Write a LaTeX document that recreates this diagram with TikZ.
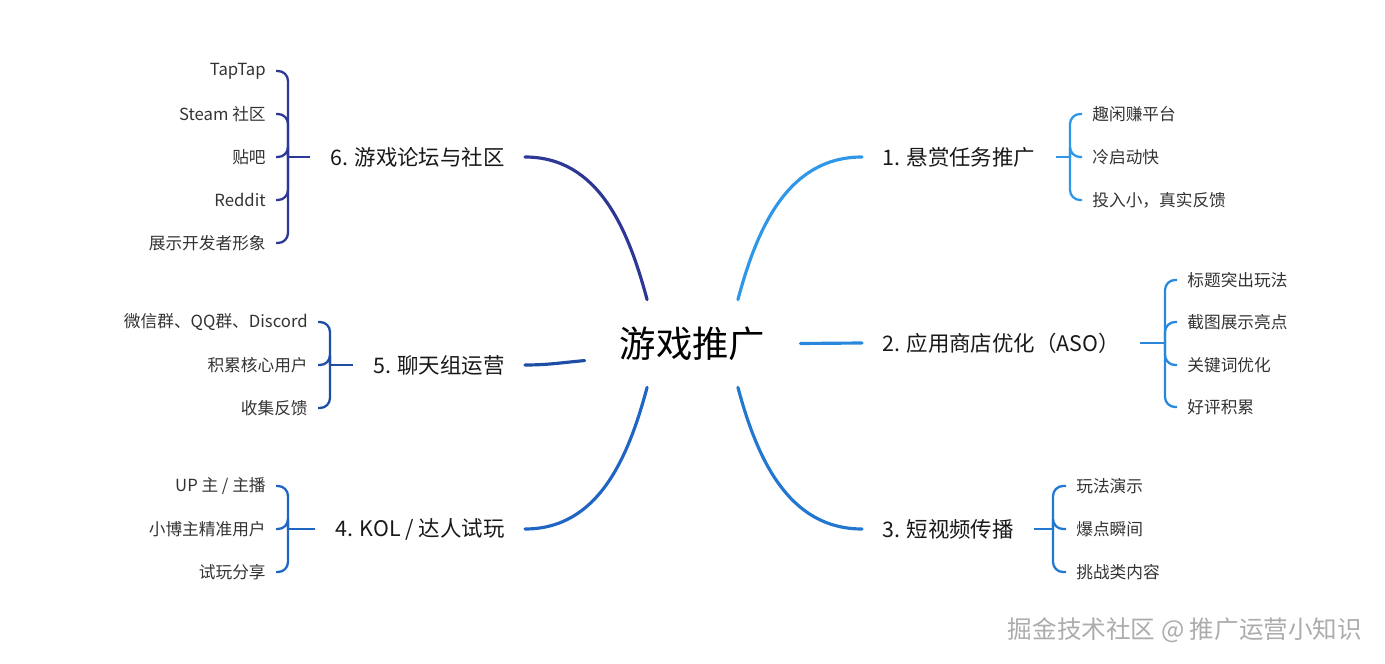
\documentclass[tikz,border=0pt]{standalone}
\usepackage{fontspec}
\setmainfont{Noto Sans CJK SC}

\definecolor{brA}{HTML}{2F97E8}
\definecolor{brB}{HTML}{2A88DC}
\definecolor{brC}{HTML}{2277D0}
\definecolor{brD}{HTML}{1F66C4}
\definecolor{brE}{HTML}{1D4EA4}
\definecolor{brF}{HTML}{2D3795}

\tikzset{
  root/.style={font=\fontsize{20.7}{24}\selectfont, text=black, inner sep=0pt,
    minimum width=4.3cm, minimum height=1.74cm},
  topic/.style={font=\fontsize{12.2}{14}\selectfont, text=black!90, inner xsep=0.4cm, inner ysep=2pt},
  leaf/.style={font=\fontsize{9.5}{11}\selectfont, text=black!80, inner xsep=0.2cm, inner ysep=1pt},
  trunk/.style={line width=1.8pt, line cap=round},
  twig/.style={line width=1.3pt, rounded corners=0.2cm},
}

\begin{document}
\begin{tikzpicture}[x=0.02cm, y=0.02cm]
    \useasboundingbox (0,0) rectangle (1385,663);

    % ===== Centre =====
    \node[root] (root) at (692.5,319.5) {游戏推广};

    % ===== Right: 1 =====
    \node[topic, anchor=west] (b1) at (862,506) {1. 悬赏任务推广};
    \draw[trunk, brA] (root.44) to[out=75, in=180] (b1.west);
    \coordinate (k1) at (1070,506);
    \draw[twig, brA] (b1.east) -- (k1);
    \node[leaf, anchor=west] (c11) at (1082,549) {趣闲赚平台};
    \node[leaf, anchor=west] (c12) at (1082,506) {冷启动快};
    \node[leaf, anchor=west] (c13) at (1082,463) {投入小，真实反馈};
    \foreach \c in {c11,c12,c13} \draw[twig, brA] (k1) |- (\c.west);

    % ===== Right: 2 =====
    \node[topic, anchor=west] (b2) at (862,320) {2. 应用商店优化（ASO）};
    \draw[trunk, brB] (root.east) -- (b2.west);
    \coordinate (k2) at (1165,320);
    \draw[twig, brB] (b2.east) -- (k2);
    \node[leaf, anchor=west] (c21) at (1177,383) {标题突出玩法};
    \node[leaf, anchor=west] (c22) at (1177,341) {截图展示亮点};
    \node[leaf, anchor=west] (c23) at (1177,298) {关键词优化};
    \node[leaf, anchor=west] (c24) at (1177,256) {好评积累};
    \foreach \c in {c21,c22,c23,c24} \draw[twig, brB] (k2) |- (\c.west);

    % ===== Right: 3 =====
    \node[topic, anchor=west] (b3) at (862,134) {3. 短视频传播};
    \draw[trunk, brC] (root.-44) to[out=-75, in=180] (b3.west);
    \coordinate (k3) at (1053,134);
    \draw[twig, brC] (b3.east) -- (k3);
    \node[leaf, anchor=west] (c31) at (1066,177) {玩法演示};
    \node[leaf, anchor=west] (c32) at (1066,134) {爆点瞬间};
    \node[leaf, anchor=west] (c33) at (1066,91) {挑战类内容};
    \foreach \c in {c31,c32,c33} \draw[twig, brC] (k3) |- (\c.west);

    % ===== Left: 4 =====
    \node[topic, anchor=east] (b4) at (525,134) {4. KOL / 达人试玩};
    \draw[trunk, brD] (root.-136) to[out=-105, in=0] (b4.east);
    \coordinate (k4) at (288,134);
    \draw[twig, brD] (b4.west) -- (k4);
    \node[leaf, anchor=east] (c41) at (276,177) {UP 主 / 主播};
    \node[leaf, anchor=east] (c42) at (276,134) {小博主精准用户};
    \node[leaf, anchor=east] (c43) at (276,91) {试玩分享};
    \foreach \c in {c41,c42,c43} \draw[twig, brD] (k4) |- (\c.east);

    % ===== Left: 5 =====
    \node[topic, anchor=east] (b5) at (525,298) {5. 聊天组运营};
    \draw[trunk, brE] (root.189) to[out=185, in=0] (b5.east);
    \coordinate (k5) at (330,298);
    \draw[twig, brE] (b5.west) -- (k5);
    \node[leaf, anchor=east] (c51) at (318,341) {微信群、QQ群、Discord};
    \node[leaf, anchor=east] (c52) at (318,298) {积累核心用户};
    \node[leaf, anchor=east] (c53) at (318,255) {收集反馈};
    \foreach \c in {c51,c52,c53} \draw[twig, brE] (k5) |- (\c.east);

    % ===== Left: 6 =====
    \node[topic, anchor=east] (b6) at (525,506) {6. 游戏论坛与社区};
    \draw[trunk, brF] (root.136) to[out=105, in=0] (b6.east);
    \coordinate (k6) at (288,506);
    \draw[twig, brF] (b6.west) -- (k6);
    \node[leaf, anchor=east] (c61) at (276,592) {TapTap};
    \node[leaf, anchor=east] (c62) at (276,549) {Steam 社区};
    \node[leaf, anchor=east] (c63) at (276,506) {贴吧};
    \node[leaf, anchor=east] (c64) at (276,463) {Reddit};
    \node[leaf, anchor=east] (c65) at (276,420) {展示开发者形象};
    \foreach \c in {c61,c62,c63,c64,c65} \draw[twig, brF] (k6) |- (\c.east);

    % watermark
    \node[font=\fontsize{14}{16}\selectfont, text=gray!65] (mark) at (1185,33) {掘金技术社区 @ 推广运营小知识};
\end{tikzpicture}
\end{document}
